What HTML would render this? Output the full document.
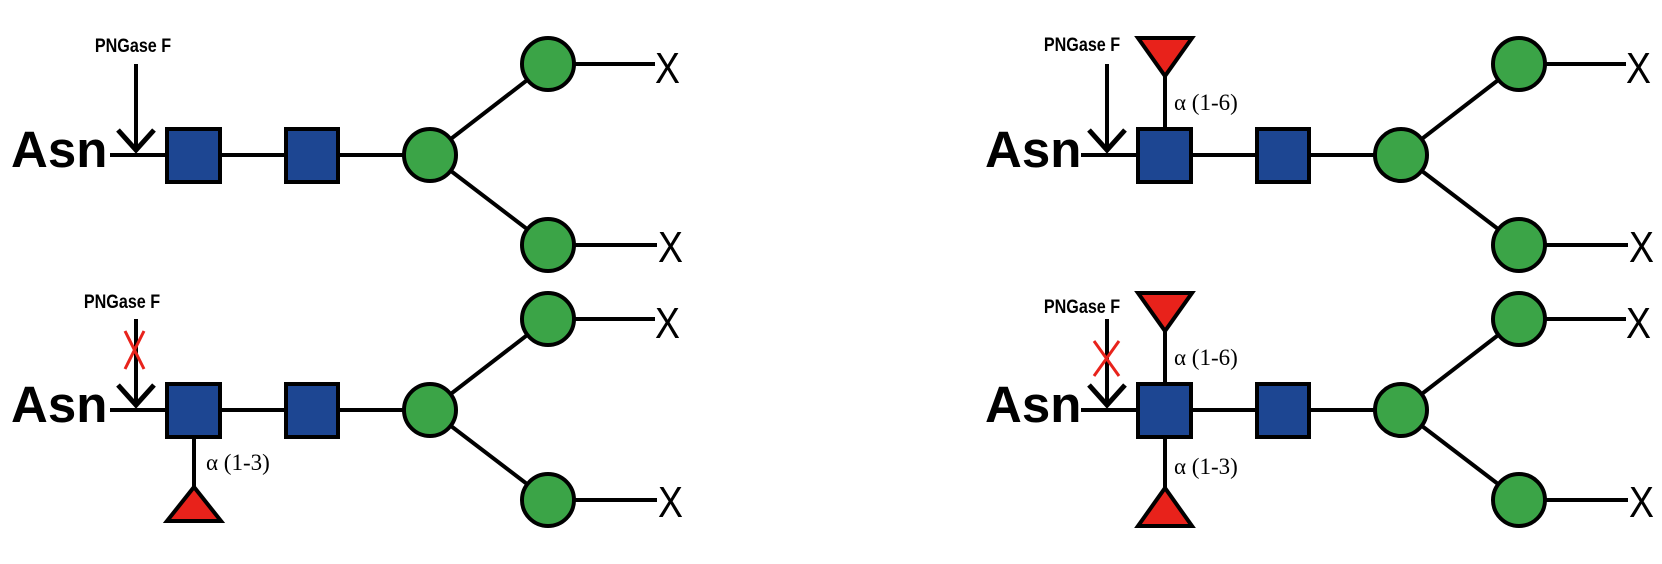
<!DOCTYPE html>
<html><head><meta charset="utf-8"><style>
html,body{margin:0;padding:0;background:#fff;}
svg{display:block;}
.pn{font-family:"Liberation Sans",sans-serif;font-weight:bold;font-size:19px;}
.asn{font-family:"Liberation Sans",sans-serif;font-weight:bold;font-size:51px;}
.x{font-family:"Liberation Sans",sans-serif;font-size:44px;}
.al{font-family:"Liberation Serif",serif;font-size:23px;}
</style></head><body>
<svg width="1662" height="564" viewBox="0 0 1662 564" xmlns="http://www.w3.org/2000/svg">
<defs>
<g id="base" stroke="#000" stroke-width="4">
  <line x1="110" y1="159" x2="167" y2="159"/>
  <line x1="220" y1="159" x2="286" y2="159"/>
  <line x1="338" y1="159" x2="405" y2="159"/>
  <line x1="430" y1="159" x2="548" y2="68"/>
  <line x1="430" y1="159" x2="548" y2="249"/>
  <line x1="573" y1="68" x2="655" y2="68"/>
  <line x1="573" y1="249" x2="657" y2="249"/>
  <rect x="167" y="133" width="53" height="53" fill="#1d4692"/>
  <rect x="286" y="133" width="52" height="53" fill="#1d4692"/>
  <circle cx="430" cy="159" r="26" fill="#3ba447"/>
  <circle cx="548" cy="68" r="26" fill="#3ba447"/>
  <circle cx="548" cy="249" r="26" fill="#3ba447"/>
  <line x1="136" y1="68" x2="136" y2="154"/>
  <polyline points="118,134 136,154 154,134" fill="none" stroke-width="5"/>
</g>
<g id="xx"><text class="x" x="0" y="0" transform="scale(0.85 1)">X</text></g>
</defs>
<g transform="translate(0,-4)">
<use href="#base"/>
<text class="asn" x="11" y="171">Asn</text>
<text class="pn" x="133" y="56" text-anchor="middle" transform="translate(133 0) scale(0.85 1) translate(-133 0)">PNGase F</text>
<use href="#xx" x="655" y="87"/>
<use href="#xx" x="658" y="266"/>

<g transform="translate(971,0)">
  <use href="#base"/>
  <line x1="194" y1="78" x2="194" y2="133" stroke="#000" stroke-width="4"/>
  <polygon points="167,42 221,42 194,80" fill="#e8221b" stroke="#000" stroke-width="4"/>
  <text class="al" x="203" y="114">α (1-6)</text>
  <text class="asn" x="14" y="171">Asn</text>
  <text class="pn" x="111" y="55" text-anchor="middle" transform="translate(111 0) scale(0.85 1) translate(-111 0)">PNGase F</text>
  <use href="#xx" x="655" y="87"/>
  <use href="#xx" x="658" y="266"/>
</g>

<g transform="translate(0,255)">
  <use href="#base"/>
  <line x1="194" y1="186" x2="194" y2="240" stroke="#000" stroke-width="4"/>
  <polygon points="167,270 221,270 194,236" fill="#e8221b" stroke="#000" stroke-width="4"/>
  <text class="al" x="206" y="219">α (1-3)</text>
  <text class="asn" x="11" y="171">Asn</text>
  <text class="pn" x="122" y="57" text-anchor="middle" transform="translate(122 0) scale(0.85 1) translate(-122 0)">PNGase F</text>
  <g stroke="#e8221b" stroke-width="3">
    <line x1="125" y1="80" x2="144" y2="118"/>
    <line x1="144" y1="80" x2="125" y2="118"/>
  </g>
  <use href="#xx" x="655" y="87"/>
  <use href="#xx" x="658" y="266"/>
</g>

<g transform="translate(971,255)">
  <use href="#base"/>
  <line x1="194" y1="78" x2="194" y2="133" stroke="#000" stroke-width="4"/>
  <polygon points="167,42 221,42 194,80" fill="#e8221b" stroke="#000" stroke-width="4"/>
  <text class="al" x="203" y="114">α (1-6)</text>
  <line x1="194" y1="186" x2="194" y2="240" stroke="#000" stroke-width="4"/>
  <polygon points="167,275 221,275 194,237" fill="#e8221b" stroke="#000" stroke-width="4"/>
  <text class="al" x="203" y="223">α (1-3)</text>
  <text class="asn" x="14" y="171">Asn</text>
  <text class="pn" x="111" y="62" text-anchor="middle" transform="translate(111 0) scale(0.85 1) translate(-111 0)">PNGase F</text>
  <g stroke="#e8221b" stroke-width="3">
    <line x1="123" y1="90" x2="148" y2="125"/>
    <line x1="148" y1="90" x2="123" y2="125"/>
  </g>
  <use href="#xx" x="655" y="87"/>
  <use href="#xx" x="658" y="266"/>
</g>
</g>
</svg>
</body></html>
